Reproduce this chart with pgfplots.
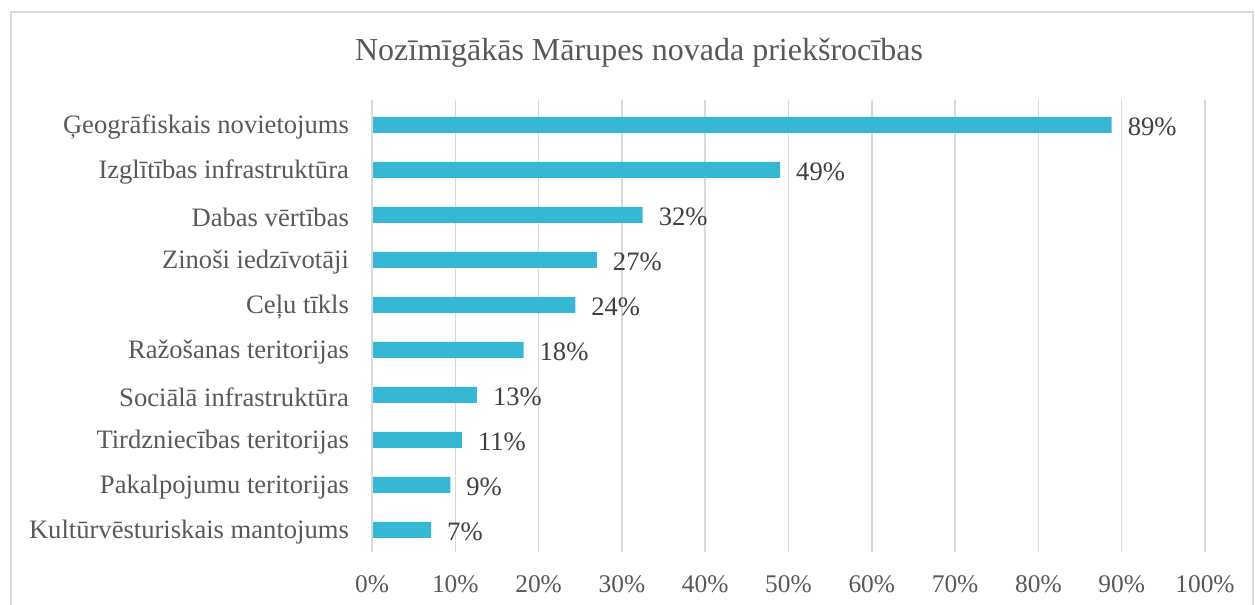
\documentclass[border=0pt]{standalone}
\usepackage{fontspec}
\setmainfont{Liberation Serif}
\usepackage{pgfplots}
\usepackage{pgfplotstable}
\pgfplotsset{compat=1.18}
\definecolor{barc}{HTML}{36B7D3}
\definecolor{gridc}{HTML}{D9D9D9}
\definecolor{txtc}{HTML}{595959}
\definecolor{lblc}{HTML}{404040}
\definecolor{framec}{HTML}{D9D9D9}
\pgfplotstableread[col sep=comma]{
y,v,lab
0,88.8,89\%
1,49.0,49\%
2,32.5,32\%
3,27.0,27\%
4,24.4,24\%
5,18.2,18\%
6,12.6,13\%
7,10.8,11\%
8,9.4,9\%
9,7.1,7\%
}\datatab
\begin{document}
\begin{tikzpicture}[x=0.5pt,y=0.5pt]
\useasboundingbox (0,0) rectangle (1255,605);
\fill[white] (0,0) rectangle (1255,605);
\draw[framec, line width=1pt] (11,-20) -- (11,593) -- (1253,593) -- (1253,-20);
\node[txtc, font=\fontsize{16}{19}\selectfont] at (639,552) {Nozīmīgākās Mārupes novada priekšrocības};
\begin{axis}[
  at={(186pt,26.5pt)}, anchor=south west,
  scale only axis, width=416.5pt, height=226pt,
  xmin=0, xmax=100, ymin=-0.555, ymax=9.49, y dir=reverse,
  xbar, bar width=8pt, bar shift=0pt,
  axis line style={draw=none},
  xmajorgrids, grid style={gridc, line width=0.75pt},
  xtick={0,10,...,100},
  xticklabel={\pgfmathprintnumber{\tick}\%},
  /pgf/number format/assume math mode=true,
  xticklabel style={txtc, font=\fontsize{12.7}{15}\selectfont, yshift=-8.5pt},
  ytick={0,...,9},
  yticklabels={Ģeogrāfiskais novietojums, Izglītības infrastruktūra, Dabas vērtības, Zinoši iedzīvotāji, Ceļu tīkls, Ražošanas teritorijas, Sociālā infrastruktūra, Tirdzniecības teritorijas, Pakalpojumu teritorijas, Kultūrvēsturiskais mantojums},
  yticklabel style={txtc, font=\fontsize{13.3}{16}\selectfont, xshift=-8pt, yshift=-1.2pt},
  major tick length=0pt,
  nodes near coords,
  point meta=explicit symbolic,
  every node near coord/.append style={lblc, font=\fontsize{13.3}{16}\selectfont, anchor=west, xshift=4.5pt, yshift=-1pt},
  clip=false,
]
\addplot[fill=barc, draw=none] table[x=v, y=y, meta=lab] {\datatab};
\end{axis}
\draw[gridc, line width=0.75pt] (372,53) -- (372,505);
\end{tikzpicture}
\end{document}
